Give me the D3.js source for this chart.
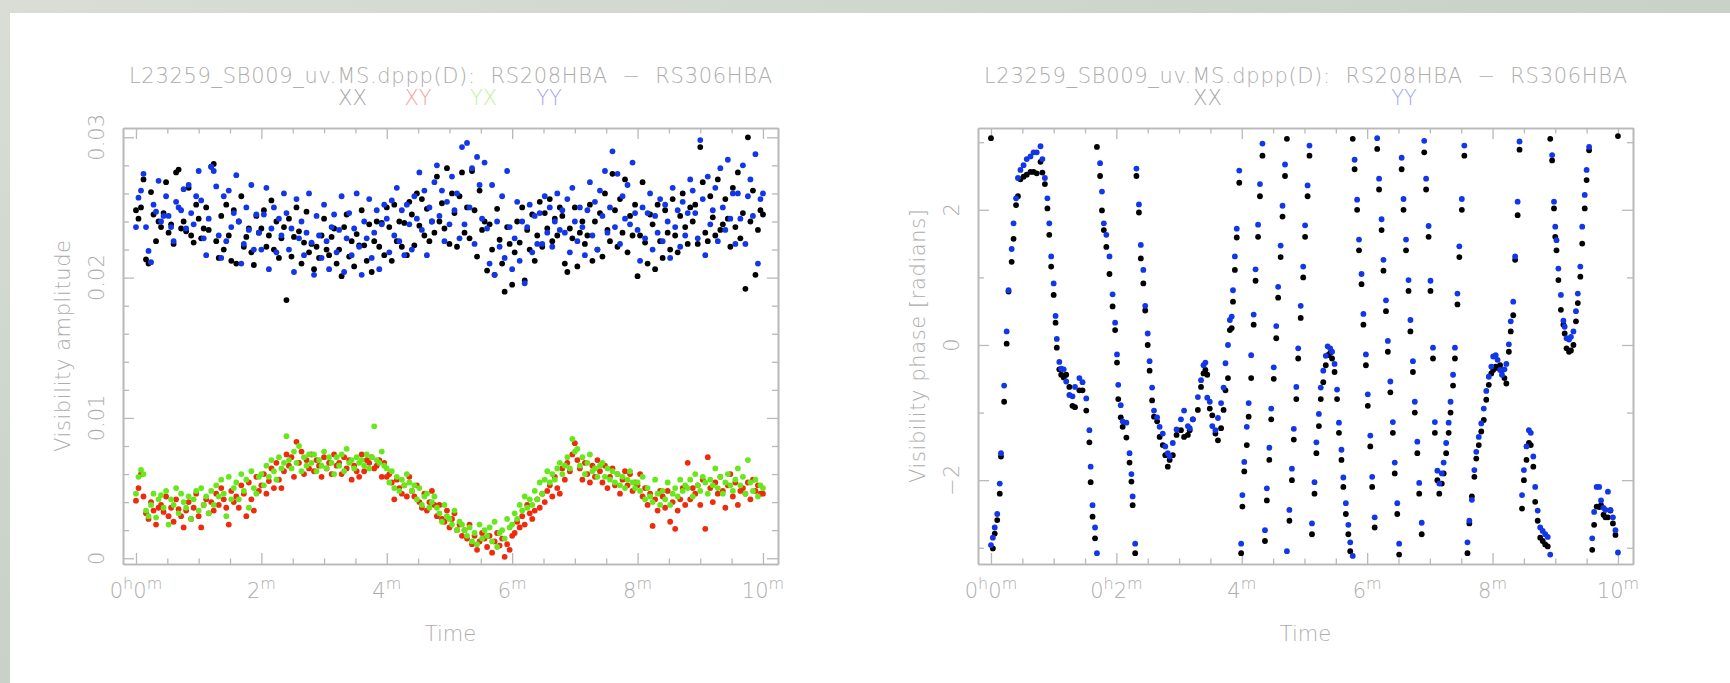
<!DOCTYPE html>
<html>
<head>
<meta charset="utf-8">
<script src="https://cdn.jsdelivr.net/npm/d3@7"></script>
<style>
  html, body { margin: 0; padding: 0; background: #ffffff; }
  svg { display: block; }
  text { font-family: "DejaVu Sans", "Noto Sans", sans-serif; font-weight: 300; }
</style>
</head>
<body>
<svg id="chart" width="1730" height="683"></svg>
<script>
// ---------------------------------------------------------------
// Baseline RS208HBA - RS306HBA, L23259_SB009_uv.MS.dppp(D)
// ---------------------------------------------------------------
const titleText = "L23259_SB009_uv.MS.dppp(D):  RS208HBA  \u2212  RS306HBA";
const polLabels = ["XX", "XY", "YX", "YY"];
const ampTickValues = [0, 0.01, 0.02, 0.03];
const ampTickLabels = ["0", "0.01", "0.02", "0.03"];
const phaseTickValues = [-2, 0, 2];
const phaseTickLabels = ["\u22122", "0", "2"];
const timeTickValues = [0, 2, 4, 6, 8, 10];
const timeTickLabelsAmp = ["0h0m", "2m", "4m", "6m", "8m", "10m"];
const timeTickLabelsPhase = ["0h0m", "0h2m", "4m", "6m", "8m", "10m"];

// sample times (minutes) for the amplitude panel
const ampTimes = [
  0,.04,.08,.12,.16,.2,.24,.28,.32,.36, .4,.44,.48,.52,.56,.6,.64,.68,.72,.76,
  .8,.84,.88,.92,.96,1,1.04,1.08,1.12,1.16, 1.2,1.24,1.28,1.32,1.36,1.4,1.44,1.48,1.52,1.56,
  1.6,1.64,1.68,1.72,1.76,1.8,1.84,1.88,1.92,1.96, 2,2.04,2.08,2.12,2.16,2.2,2.24,2.28,2.32,2.36,
  2.4,2.44,2.48,2.52,2.56,2.6,2.64,2.68,2.72,2.76, 2.8,2.84,2.88,2.92,2.96,3,3.04,3.08,3.12,3.16,
  3.2,3.24,3.28,3.32,3.36,3.4,3.44,3.48,3.52,3.56, 3.6,3.64,3.68,3.72,3.76,3.8,3.84,3.88,3.92,3.96,
  4,4.04,4.08,4.12,4.16,4.2,4.24,4.28,4.32,4.36, 4.4,4.44,4.48,4.52,4.56,4.6,4.64,4.68,4.72,4.76,
  4.8,4.84,4.88,4.92,4.96,5,5.04,5.08,5.12,5.16, 5.2,5.24,5.28,5.32,5.36,5.4,5.44,5.48,5.52,5.56,
  5.6,5.64,5.68,5.72,5.76,5.8,5.84,5.88,5.92,5.96, 6,6.04,6.08,6.12,6.16,6.2,6.24,6.28,6.32,6.36,
  6.4,6.44,6.48,6.52,6.56,6.6,6.64,6.68,6.72,6.76, 6.8,6.84,6.88,6.92,6.96,7,7.04,7.08,7.12,7.16,
  7.2,7.24,7.28,7.32,7.36,7.4,7.44,7.48,7.52,7.56, 7.6,7.64,7.68,7.72,7.76,7.8,7.84,7.88,7.92,7.96,
  8,8.04,8.08,8.12,8.16,8.2,8.24,8.28,8.32,8.36, 8.4,8.44,8.48,8.52,8.56,8.6,8.64,8.68,8.72,8.76,
  8.8,8.84,8.88,8.92,8.96,9,9.04,9.08,9.12,9.16, 9.2,9.24,9.28,9.32,9.36,9.4,9.44,9.48,9.52,9.56,
  9.6,9.64,9.68,9.72,9.76,9.8,9.84,9.88,9.92,9.96, 10
];

// visibility amplitudes per correlation
const ampXX = [
  .0248,.0242,.0250,.0270,.0213,.0210,.0261,.0245,.0226,.0240, .0236,.0246,.0268,.0232,.0238,.0224,.0275,.0277,.0235,.0240,
  .0233,.0264,.0230,.0225,.0252,.0242,.0228,.0235,.0250,.0234, .0279,.0281,.0226,.0214,.0244,.0220,.0252,.0230,.0212,.0248,
  .0210,.0240,.0258,.0222,.0229,.0235,.0218,.0209,.0244,.0232, .0235,.0248,.0222,.0230,.0255,.0220,.0240,.0214,.0228,.0236,
  .0184,.0242,.0215,.0229,.0250,.0233,.0210,.0225,.0247,.0218, .0224,.0206,.0222,.0214,.0230,.0242,.0220,.0216,.0229,.0235,
  .0210,.0220,.0201,.0236,.0245,.0215,.0226,.0208,.0231,.0223, .0248,.0223,.0212,.0238,.0204,.0226,.0240,.0222,.0239,.0216,
  .0250,.0236,.0212,.0252,.0226,.0240,.0222,.0239,.0216,.0254, .0245,.0223,.0260,.0237,.0256,.0230,.0249,.0226,.0240,.0232,
  .0272,.0240,.0253,.0235,.0278,.0224,.0260,.0246,.0222,.0258, .0275,.0232,.0250,.0228,.0276,.0248,.0215,.0262,.0234,.0240,
  .0205,.0238,.0220,.0202,.0249,.0227,.0210,.0190,.0236,.0224, .0195,.0218,.0240,.0225,.0250,.0198,.0234,.0220,.0245,.0212,
  .0230,.0254,.0222,.0246,.0235,.0256,.0226,.0242,.0230,.0250, .0244,.0210,.0204,.0235,.0228,.0250,.0208,.0232,.0240,.0224,
  .0230,.0252,.0212,.0240,.0220,.0246,.0215,.0260,.0234,.0226, .0274,.0248,.0222,.0256,.0232,.0270,.0218,.0244,.0230,.0252,
  .0201,.0230,.0268,.0225,.0210,.0245,.0238,.0206,.0252,.0226, .0214,.0248,.0232,.0220,.0256,.0230,.0218,.0244,.0260,.0236,
  .0224,.0250,.0240,.0252,.0224,.0293,.0268,.0232,.0226,.0258, .0243,.0230,.0270,.0234,.0238,.0256,.0242,.0222,.0264,.0236,
  .0275,.0228,.0246,.0192,.0300,.0240,.0262,.0202,.0234,.0248, .0245
];
const ampXY = [
  .0041,.0050,.0060,.0044,.0032,.0028,.0040,.0034,.0024,.0036, .0038,.0033,.0044,.0030,.0036,.0026,.0042,.0035,.0030,.0022,
  .0034,.0040,.0028,.0036,.0046,.0030,.0022,.0038,.0042,.0032, .0040,.0034,.0046,.0038,.0050,.0042,.0036,.0024,.0048,.0040,
  .0044,.0036,.0052,.0046,.0030,.0054,.0042,.0034,.0058,.0048, .0052,.0060,.0046,.0055,.0064,.0050,.0068,.0056,.0050,.0062,
  .0074,.0066,.0072,.0058,.0083,.0068,.0076,.0060,.0070,.0064, .0074,.0062,.0070,.0066,.0058,.0072,.0064,.0068,.0060,.0074,
  .0066,.0068,.0060,.0072,.0064,.0070,.0056,.0066,.0062,.0058, .0074,.0062,.0070,.0068,.0072,.0064,.0066,.0070,.0058,.0068,
  .0058,.0060,.0054,.0042,.0056,.0050,.0046,.0052,.0044,.0058, .0048,.0044,.0052,.0040,.0036,.0046,.0034,.0040,.0048,.0038,
  .0030,.0038,.0028,.0026,.0034,.0022,.0028,.0032,.0020,.0024, .0016,.0020,.0014,.0024,.0010,.0016,.0006,.0012,.0018,.0014,
  .0008,.0016,.0004,.0012,.0018,.0009,.0014,.0001,.0010,.0006, .0016,.0018,.0026,.0022,.0030,.0024,.0038,.0032,.0028,.0034,
  .0042,.0036,.0046,.0040,.0048,.0052,.0044,.0058,.0050,.0046, .0064,.0056,.0068,.0062,.0074,.0082,.0070,.0064,.0056,.0068,
  .0060,.0054,.0066,.0058,.0070,.0062,.0054,.0066,.0050,.0058, .0064,.0052,.0060,.0046,.0056,.0062,.0052,.0060,.0048,.0054,
  .0052,.0060,.0044,.0050,.0038,.0046,.0023,.0042,.0034,.0048, .0044,.0036,.0048,.0026,.0040,.0021,.0034,.0042,.0050,.0038,
  .0068,.0042,.0050,.0046,.0052,.0038,.0056,.0021,.0072,.0050, .0040,.0054,.0046,.0058,.0048,.0036,.0052,.0060,.0044,.0054,
  .0038,.0048,.0050,.0046,.0054,.0042,.0056,.0048,.0052,.0046, .0046
];
const ampYX = [
  .0046,.0058,.0063,.0060,.0034,.0030,.0038,.0046,.0029,.0042, .0045,.0036,.0048,.0024,.0042,.0038,.0050,.0032,.0046,.0040,
  .0036,.0044,.0028,.0042,.0048,.0034,.0050,.0038,.0044,.0032, .0048,.0038,.0052,.0044,.0056,.0046,.0030,.0058,.0042,.0050,
  .0054,.0042,.0060,.0048,.0056,.0036,.0062,.0050,.0046,.0058, .0060,.0052,.0066,.0058,.0070,.0062,.0056,.0072,.0064,.0068,
  .0087,.0070,.0064,.0076,.0068,.0080,.0062,.0072,.0066,.0074, .0068,.0074,.0062,.0070,.0066,.0076,.0064,.0072,.0068,.0060,
  .0072,.0066,.0074,.0062,.0078,.0068,.0070,.0064,.0072,.0068, .0070,.0066,.0074,.0064,.0072,.0094,.0070,.0068,.0076,.0066,
  .0064,.0054,.0062,.0050,.0058,.0048,.0056,.0052,.0060,.0054, .0048,.0052,.0042,.0050,.0038,.0044,.0046,.0036,.0040,.0044,
  .0036,.0032,.0026,.0038,.0030,.0028,.0024,.0034,.0020,.0026, .0024,.0020,.0016,.0022,.0012,.0018,.0010,.0024,.0014,.0020,
  .0016,.0022,.0012,.0026,.0008,.0018,.0020,.0014,.0028,.0022, .0024,.0032,.0028,.0038,.0034,.0044,.0036,.0042,.0038,.0048,
  .0042,.0054,.0046,.0056,.0062,.0054,.0060,.0056,.0064,.0068, .0060,.0066,.0072,.0064,.0085,.0076,.0078,.0066,.0072,.0060,
  .0068,.0074,.0062,.0064,.0058,.0066,.0068,.0058,.0064,.0056, .0062,.0054,.0060,.0052,.0058,.0050,.0056,.0062,.0054,.0050,
  .0054,.0048,.0058,.0042,.0050,.0044,.0040,.0056,.0046,.0038, .0048,.0042,.0054,.0038,.0046,.0050,.0044,.0056,.0048,.0052,
  .0050,.0056,.0044,.0060,.0052,.0048,.0058,.0054,.0046,.0056, .0052,.0064,.0050,.0058,.0046,.0054,.0060,.0052,.0048,.0056,
  .0064,.0052,.0058,.0046,.0070,.0054,.0048,.0056,.0044,.0052, .0050
];
const ampYY = [
  .0236,.0257,.0262,.0274,.0236,.0219,.0211,.0252,.0247,.0269, .0240,.0244,.0258,.0244,.0236,.0226,.0254,.0250,.0248,.0263,
  .0235,.0266,.0246,.0238,.0258,.0276,.0255,.0228,.0216,.0242, .0279,.0276,.0265,.0230,.0214,.0258,.0226,.0262,.0236,.0246,
  .0273,.0240,.0210,.0224,.0250,.0234,.0266,.0220,.0245,.0232, .0220,.0245,.0264,.0206,.0235,.0250,.0218,.0242,.0230,.0260,
  .0246,.0220,.0235,.0204,.0256,.0228,.0240,.0216,.0232,.0260, .0225,.0202,.0244,.0230,.0214,.0252,.0226,.0206,.0236,.0245,
  .0218,.0234,.0258,.0204,.0228,.0246,.0216,.0235,.0260,.0222, .0202,.0240,.0228,.0256,.0214,.0232,.0248,.0206,.0238,.0252,
  .0242,.0218,.0255,.0230,.0264,.0226,.0248,.0216,.0252,.0238, .0220,.0258,.0242,.0275,.0234,.0262,.0216,.0250,.0240,.0268,
  .0280,.0244,.0262,.0226,.0254,.0238,.0272,.0248,.0260,.0228, .0293,.0238,.0296,.0250,.0278,.0224,.0286,.0266,.0242,.0282,
  .0235,.0210,.0266,.0202,.0240,.0222,.0258,.0214,.0276,.0236, .0206,.0228,.0254,.0212,.0240,.0196,.0236,.0252,.0218,.0244,
  .0224,.0246,.0224,.0258,.0232,.0250,.0222,.0240,.0260,.0234, .0248,.0232,.0256,.0218,.0264,.0240,.0226,.0250,.0236,.0216,
  .0248,.0268,.0230,.0254,.0220,.0262,.0244,.0276,.0232,.0250, .0290,.0236,.0274,.0224,.0258,.0242,.0266,.0238,.0282,.0246,
  .0234,.0212,.0250,.0228,.0246,.0260,.0220,.0244,.0232,.0256, .0226,.0252,.0240,.0214,.0264,.0236,.0248,.0222,.0254,.0230,
  .0246,.0270,.0262,.0246,.0228,.0298,.0256,.0216,.0272,.0238, .0248,.0264,.0226,.0278,.0250,.0234,.0284,.0242,.0260,.0224,
  .0260,.0242,.0280,.0224,.0258,.0270,.0244,.0288,.0210,.0256, .0260
];

// sample times (minutes) for the phase panel
const phaseTimes = [
  0.00,0.03,0.06,0.10,0.14,0.16,0.21,0.25,0.28,0.33, 0.36,0.40,0.43,0.47,0.52,0.57,0.63,0.68,0.73,0.79,
  0.82,0.86,0.90,0.93,0.96,1.00,1.03,1.05,1.09,1.12, 1.16,1.20,1.25,1.30,1.34,1.41,1.46,1.52,1.57,1.59,
  1.62,1.66,1.69,1.74,1.77,1.80,1.84,1.89,1.94,1.98, 2.01,2.03,2.07,2.10,2.16,2.21,2.24,2.26,2.30,2.32,
  2.36,2.39,2.43,2.46,2.50,2.53,2.57,2.60,2.65,2.69, 2.74,2.78,2.82,2.85,2.90,2.96,3.03,3.08,3.14,3.17,
  3.22,3.30,3.35,3.39,3.42,3.45,3.49,3.53,3.58,3.62, 3.67,3.71,3.74,3.78,3.81,3.84,3.86,3.89,3.92,3.96,
  3.99,4.01,4.04,4.08,4.11,4.15,4.19,4.22,4.26,4.29, 4.33,4.37,4.40,4.44,4.47,4.51,4.55,4.58,4.62,4.65,
  4.69,4.72,4.76,4.80,4.83,4.87,4.90,4.94,4.98,5.01, 5.05,5.08,5.12,5.16,5.19,5.23,5.26,5.30,5.34,5.37,
  5.41,5.44,5.48,5.52,5.55,5.59,5.62,5.66,5.70,5.73, 5.77,5.80,5.84,5.87,5.91,5.94,5.98,6.01,6.05,6.08,
  6.12,6.16,6.19,6.23,6.26,6.30,6.33,6.37,6.41,6.44, 6.48,6.51,6.55,6.58,6.62,6.66,6.69,6.73,6.76,6.80,
  6.83,6.87,6.91,6.94,6.98,7.01,7.05,7.08,7.12,7.15, 7.19,7.22,7.26,7.30,7.33,7.37,7.40,7.44,7.47,7.51,
  7.55,7.60,7.63,7.67,7.71,7.74,7.78,7.82,7.86,7.90, 7.94,7.98,8.01,8.05,8.08,8.12,8.15,8.19,8.22,8.26,
  8.29,8.33,8.36,8.40,8.43,8.47,8.50,8.54,8.58,8.61, 8.65,8.68,8.72,8.76,8.80,8.84,8.88,8.92,8.95,8.98,
  9.00,9.02,9.05,9.09,9.13,9.15,9.18,9.22,9.25,9.29, 9.33,9.36,9.40,9.43,9.47,9.50,9.54,9.59,9.62,9.66,
  9.70,9.73,9.77,9.80,9.84,9.88,9.92,9.96,10.00
];
// visibility phases (radians)
const phaseXX = [
  3.06,-3.01,-2.79,-2.59,-2.20,-1.65,-0.84,0.02,0.79,1.23, 1.57,2.07,2.20,2.45,2.49,2.52,2.56,2.56,2.54,2.71,
  2.55,2.38,2.02,1.63,1.16,0.74,0.33,-0.04,-0.36,-0.44, -0.48,-0.44,-0.62,-0.90,-0.92,-0.67,-0.67,-0.97,-1.44,-2.03,
  -2.54,-2.86,2.93,2.50,1.99,1.70,1.45,1.05,0.57,0.22, -0.26,-0.80,-1.07,-1.21,-1.37,-1.74,-2.02,-2.37,-3.08,2.50,
  1.96,1.28,0.91,0.51,0.00,-0.38,-0.82,-1.06,-1.13,-1.36, -1.48,-1.63,-1.80,-1.70,-1.63,-1.33,-1.26,-1.36,-1.33,-1.26,
  -1.10,-0.96,-0.62,-0.42,-0.37,-0.44,-0.94,-1.04,-1.31,-1.41, -1.23,-0.96,-0.67,-0.49,0.22,0.25,0.64,1.11,1.59,2.40,
  -3.08,-2.39,-1.87,-1.48,-1.06,-0.49,0.30,0.95,1.60,2.20, 2.80,-2.90,-2.30,-1.70,-1.10,-0.50,0.10,0.70,1.30,1.90,
  2.50,3.05,-2.60,-2.00,-1.40,-0.80,-0.20,0.40,1.00,1.60, 2.20,2.80,-2.80,-2.20,-1.60,-1.20,-0.80,-0.55,-0.30,-0.15,
  -0.12,-0.20,-0.40,-0.80,-1.30,-1.70,-2.10,-2.50,-2.80,-3.05, 3.05,2.60,2.00,1.40,0.90,0.30,-0.30,-0.90,-1.50,-2.10,
  -2.70,2.90,2.30,1.70,1.10,0.50,-0.10,-0.70,-1.30,-1.90, -2.50,-3.10,2.60,2.00,1.40,0.80,0.20,-0.40,-1.00,-1.60,
  -2.20,-2.80,2.85,2.30,1.60,0.80,-0.20,-1.30,-2.00,-2.20, -2.05,-1.90,-1.60,-1.30,-1.00,-0.60,-0.20,0.60,1.30,2.00,
  2.80,-3.08,-2.64,-2.24,-1.95,-1.68,-1.48,-1.28,-1.11,-0.81, -0.59,-0.42,-0.37,-0.32,-0.34,-0.30,-0.37,-0.49,-0.57,-0.10,
  0.20,0.44,1.26,1.92,2.89,-2.42,-2.00,-1.70,-1.45,-1.48, -1.80,-2.32,-2.60,-2.85,-2.90,-2.95,-2.98,3.05,2.73,2.02,
  1.60,1.40,0.96,0.52,0.30,0.17,-0.05,-0.10,-0.08,0.00, 0.35,0.62,1.01,1.50,2.02,2.44,2.88,-3.03,-2.66,-2.39,
  -2.40,-2.37,-2.51,-2.55,-2.55,-2.45,-2.64,-2.81,3.09
];
const phaseYY = [
  -2.96,-2.85,-2.70,-2.50,-2.05,-1.60,-0.60,0.20,0.81,1.42, 1.80,2.17,2.47,2.59,2.66,2.75,2.79,2.85,2.85,2.94,
  2.75,2.47,2.17,1.80,1.31,0.91,0.43,0.09,-0.25,-0.35, -0.36,-0.54,-0.74,-0.76,-0.62,-0.49,-0.55,-0.79,-1.26,-1.80,
  -2.37,-2.70,-3.08,2.69,2.27,1.80,1.63,1.31,0.75,0.33, -0.14,-0.59,-0.89,-1.13,-1.15,-1.60,-1.91,-2.24,-2.94,2.61,
  2.08,1.48,1.11,0.58,0.17,-0.24,-0.63,-0.97,-1.07,-1.21, -1.31,-1.50,-1.60,-1.65,-1.45,-1.25,-1.10,-0.97,-1.20,-1.23,
  -1.10,-0.77,-0.52,-0.30,-0.26,-0.78,-0.84,-1.20,-1.26,-1.08, -0.86,-0.63,-0.27,0.00,0.37,0.42,0.81,1.31,1.72,2.58,
  -2.94,-2.22,-1.73,-1.21,-0.86,-0.15,0.45,1.12,1.78,2.38, 2.98,-2.74,-2.12,-1.52,-0.94,-0.33,0.28,0.86,1.47,2.06,
  2.67,-3.05,-2.44,-1.83,-1.24,-0.62,-0.05,0.58,1.16,1.77, 2.36,2.95,-2.64,-2.03,-1.44,-1.02,-0.63,-0.38,-0.16,-0.02,
  -0.05,-0.10,-0.28,-0.66,-1.15,-1.55,-1.96,-2.34,-2.66,-2.92, -3.12,2.74,2.15,1.56,1.05,0.46,-0.14,-0.73,-1.34,-1.95,
  -2.55,3.06,2.46,1.86,1.26,0.66,0.06,-0.54,-1.14,-1.74, -2.34,-2.94,2.77,2.16,1.56,0.96,0.37,-0.24,-0.84,-1.43,
  -2.04,-2.63,3.02,2.46,1.76,0.95,-0.04,-1.14,-1.86,-2.05, -1.90,-1.74,-1.45,-1.15,-0.84,-0.44,-0.04,0.76,1.46,2.16,
  2.95,-2.92,-2.60,-2.29,-1.85,-1.58,-1.36,-1.16,-0.94,-0.68, -0.47,-0.32,-0.17,-0.15,-0.22,-0.37,-0.44,-0.36,-0.28,0.01,
  0.35,0.64,1.31,2.12,3.01,-2.22,-1.85,-1.50,-1.26,-1.30, -1.65,-2.10,-2.45,-2.70,-2.75,-2.80,-2.84,-3.10,2.81,2.12,
  1.75,1.55,1.13,0.74,0.36,0.27,0.10,0.08,0.12,0.20, 0.50,0.76,1.16,1.75,2.22,2.59,2.93,-2.86,-2.47,-2.10,
  -2.10,-2.30,-2.41,-2.44,-2.17,-2.44,-2.55,-2.74,-3.07
];

// ---------------------------------------------------------------
const svg = d3.select("#chart");
const W = 1730, H = 683;

const markColor = { XX: "#000000", XY: "#f02a0c", YX: "#66e81a", YY: "#1236ea" };
const labelColor = { XX: "#a6a6a6", XY: "#f5a3a3", YX: "#c4efa0", YY: "#a3a6f5" };
const inkGrey = "#adadad";
const frameGrey = "#b9b9b9";

// backdrop around the white sheet
const defs = svg.append("defs");
const bg = defs.append("linearGradient").attr("id", "backdrop")
  .attr("x1", "0").attr("y1", "0").attr("x2", "1").attr("y2", "1");
bg.append("stop").attr("offset", "0").attr("stop-color", "#d9ddd6");
bg.append("stop").attr("offset", "0.5").attr("stop-color", "#c8d2c6");
bg.append("stop").attr("offset", "1").attr("stop-color", "#d6dcd4");
svg.append("rect").attr("width", W).attr("height", H).attr("fill", "url(#backdrop)");
svg.append("rect").attr("x", 10).attr("y", 13).attr("width", W - 10).attr("height", H - 13)
  .attr("fill", "#ffffff");

// time axis (minutes) shared by both panels, frame spans a little past 0..10
const timeDomain = [-0.207, 10.24];

function drawPanel(opt) {
  const g = svg.append("g");
  const x = d3.scaleLinear().domain(timeDomain).range([opt.left, opt.right]);
  const y = d3.scaleLinear().domain(opt.yDomain).range([opt.bottom, opt.top]);

  // frame with inward ticks on all four sides
  const style = sel => {
    sel.selectAll("path.domain").attr("stroke", frameGrey).attr("stroke-width", 1.6);
    sel.selectAll(".tick line").attr("stroke", frameGrey).attr("stroke-width", 1.3);
    sel.selectAll(".tick text").remove();
  };
  const xMinor = d3.range(0, 10.01, 0.5).filter(v => v % 2 !== 0);
  const yMinor = opt.yMinor.filter(v => !opt.yTicks.some(t => Math.abs(t - v) < 1e-9));

  [[d3.axisBottom, opt.bottom], [d3.axisTop, opt.top]].forEach(([ax, ty]) => {
    g.append("g").attr("transform", `translate(0,${ty})`)
      .call(ax(x).tickValues(timeTickValues).tickSizeInner(-11).tickSizeOuter(0).tickFormat(""))
      .call(style);
    g.append("g").attr("transform", `translate(0,${ty})`)
      .call(ax(x).tickValues(xMinor).tickSizeInner(-5.5).tickSizeOuter(0).tickFormat(""))
      .call(style);
  });
  [[d3.axisLeft, opt.left], [d3.axisRight, opt.right]].forEach(([ax, tx]) => {
    g.append("g").attr("transform", `translate(${tx},0)`)
      .call(ax(y).tickValues(opt.yTicks).tickSizeInner(-11).tickSizeOuter(0).tickFormat(""))
      .call(style);
    g.append("g").attr("transform", `translate(${tx},0)`)
      .call(ax(y).tickValues(yMinor).tickSizeInner(-6).tickSizeOuter(0).tickFormat(""))
      .call(style);
  });

  // time labels with superscript h / m
  opt.timeLabels.forEach((lab, i) => {
    const t = g.append("text")
      .attr("x", x(timeTickValues[i])).attr("y", opt.bottom + 34)
      .attr("text-anchor", "middle").attr("fill", inkGrey).attr("font-size", 21);
    let raised = false;
    for (const part of lab.match(/\d+|[hm]/g)) {
      const sup = /[hm]/.test(part);
      const ts = t.append("tspan").text(part);
      if (sup && !raised) { ts.attr("dy", -9).attr("font-size", 16); raised = true; }
      else if (sup) { ts.attr("font-size", 16); }
      else if (raised) { ts.attr("dy", 9); raised = false; }
    }
  });

  // value labels, rotated
  opt.yTicks.forEach((v, i) => {
    g.append("text")
      .attr("transform", `translate(${opt.left - 19},${y(v)}) rotate(-90)`)
      .attr("text-anchor", "middle").attr("fill", inkGrey).attr("font-size", 21)
      .text(opt.yLabels[i]);
  });

  // axis titles
  const midX = (opt.left + opt.right) / 2;
  const midY = (opt.top + opt.bottom) / 2;
  g.append("text").attr("x", midX).attr("y", 641).attr("text-anchor", "middle")
    .attr("fill", inkGrey).attr("font-size", 21).text("Time");
  g.append("text")
    .attr("transform", `translate(${opt.left - 53},${midY}) rotate(-90)`)
    .attr("text-anchor", "middle").attr("fill", inkGrey).attr("font-size", 21)
    .attr("textLength", opt.yTitleLength).attr("lengthAdjust", "spacing")
    .text(opt.yTitle);

  // title and correlation key
  g.append("text").attr("x", midX).attr("y", 83).attr("text-anchor", "middle")
    .attr("fill", inkGrey).attr("font-size", 21)
    .attr("textLength", 643).attr("lengthAdjust", "spacing")
    .style("white-space", "pre").text(titleText);
  polLabels.forEach((p, i) => {
    if (!opt.keys.includes(p)) return;
    g.append("text").attr("x", midX - 98 + i * 65.5).attr("y", 105)
      .attr("text-anchor", "middle").attr("fill", labelColor[p]).attr("font-size", 21).text(p);
  });

  // data points
  const pts = g.append("g");
  opt.series.forEach(s => {
    pts.append("g").selectAll("circle")
      .data(s.values.map((v, i) => ({ t: s.times[i], v })))
      .join("circle")
      .attr("cx", d => x(d.t)).attr("cy", d => y(d.v))
      .attr("r", 2.9).attr("fill", markColor[s.key]);
  });
}

drawPanel({
  left: 123, right: 778, top: 128, bottom: 564,
  yDomain: [-0.00041, 0.030663],
  yTicks: ampTickValues, yLabels: ampTickLabels,
  yMinor: d3.range(0, 0.0301, 0.002),
  yTitle: "Visibility amplitude", yTitleLength: 212,
  timeLabels: timeTickLabelsAmp,
  keys: ["XX", "XY", "YX", "YY"],
  series: [
    { key: "XX", times: ampTimes, values: ampXX },
    { key: "XY", times: ampTimes, values: ampXY },
    { key: "YX", times: ampTimes, values: ampYX },
    { key: "YY", times: ampTimes, values: ampYY }
  ]
});

drawPanel({
  left: 978, right: 1633, top: 128, bottom: 564,
  yDomain: [-3.24, 3.21],
  yTicks: phaseTickValues, yLabels: phaseTickLabels,
  yMinor: [-3, -1, 1, 3],
  yTitle: "Visibility phase [radians]", yTitleLength: 274,
  timeLabels: timeTickLabelsPhase,
  keys: ["XX", "YY"],
  series: [
    { key: "XX", times: phaseTimes, values: phaseXX },
    { key: "YY", times: phaseTimes, values: phaseYY }
  ]
});
</script>
</body>
</html>
